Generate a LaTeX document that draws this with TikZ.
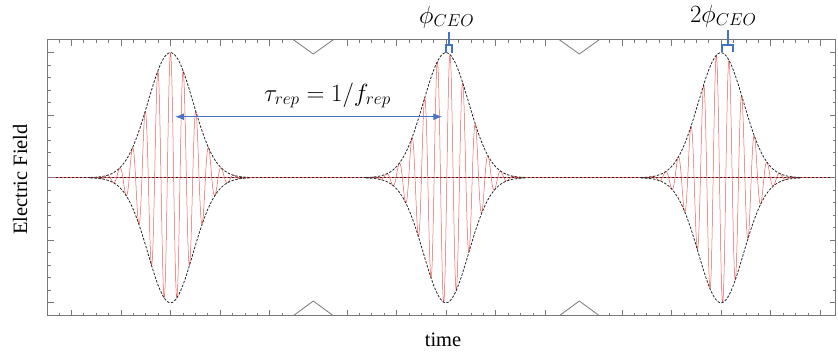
\documentclass[tikz,border=0pt]{standalone}
\usepackage{fontspec}
\setmainfont{Liberation Serif}
\usetikzlibrary{arrows.meta}
\definecolor{pulsered}{RGB}{238,92,92}
\definecolor{annblue}{RGB}{68,114,196}
\definecolor{axisgray}{RGB}{120,120,120}
\tikzset{
  frameline/.style={axisgray, line width=0.8bp},
  tickline/.style={axisgray, line width=0.6bp},
  envelope/.style={black!85, line width=0.8bp, dash pattern=on 2.5bp off 1.5bp},
  carrier/.style={pulsered, line width=0.5bp},
  bluearrow/.style={annblue, line width=1.1bp, {Latex[length=9bp,width=7bp]}-{Latex[length=9bp,width=7bp]}},
  bracketline/.style={annblue, line width=2bp},
  lbl/.style={inner sep=0pt, font=\fontsize{20.5}{24}\selectfont},
  mathlbl/.style={inner sep=0pt, font=\fontsize{23}{27}\selectfont},
  taulbl/.style={inner sep=0pt, font=\fontsize{25}{30}\selectfont},
}
\begin{document}
\begin{tikzpicture}[x=1bp,y=-1bp]
\useasboundingbox (0,0) rectangle (838,351);
% zero line
\draw[carrier] (47.7,177.7) -- (835.5,177.7);
\draw[envelope] (47.7,177.7) -- (835.5,177.7);
% pulses
\foreach \c/\s in {170.5/0, 446/4, 721/8} {
  \draw[carrier] plot[domain=-80:80, samples=600] ({\c+\x},{177.7-125*exp(-(\x*\x)/1012.5)*cos(28.3465*(\x-\s))});
  \draw[envelope] plot[domain=-80:80, samples=160] ({\c+\x},{177.7-125*exp(-(\x*\x)/1012.5)});
  \draw[envelope] plot[domain=-80:80, samples=160] ({\c+\x},{177.7+125*exp(-(\x*\x)/1012.5)});
}
% frame
\draw[frameline] (47.7,39.7) rectangle (835.5,315.7);
% axis breaks
\foreach \b in {293.3,559.3} {
  \draw[frameline] (\b,39.7) -- (\b+20,54) -- (\b+40,39.7);
  \draw[frameline] (\b,315.7) -- (\b+20,301) -- (\b+40,315.7);
}
% y ticks
\foreach \k in {-10,...,10} {
  \draw[tickline] (47.7,177.7+12.5*\k) -- ++(3,0);
  \draw[tickline] (835.5,177.7+12.5*\k) -- ++(-3,0);
}
\foreach \k in {-10,-5,0,5,10} {
  \draw[tickline] (47.7,177.7+12.5*\k) -- ++(6,0);
  \draw[tickline] (835.5,177.7+12.5*\k) -- ++(-6,0);
}
% x ticks
\foreach \c/\a/\b in {170.5/-9/9, 446/-8/8, 721/-9/8} {
  \foreach \k in {\a,...,\b} {
    \draw[tickline] (\c+12.4*\k,39.7) -- ++(0,3);
    \draw[tickline] (\c+12.4*\k,315.7) -- ++(0,-3);
  }
  \foreach \k in {-8,-4,0,4,8} {
    \draw[tickline] (\c+12.4*\k,39.7) -- ++(0,6);
    \draw[tickline] (\c+12.4*\k,315.7) -- ++(0,-6);
  }
}
% repetition period arrow
\coordinate (tauL) at (175,116.7);
\coordinate (tauR) at (442.3,116.7);
\draw[bluearrow] (tauL) -- (tauR);
\node[taulbl, anchor=base] (tau) at (327.5,101) {$\tau_{rep} = 1/f_{rep}$};
% CEO brackets
\draw[bracketline] (446,53) -- (446,45) -- (452,45) -- (452,53);
\draw[bracketline] (449,45) -- (449,31.5);
\draw[bracketline] (721.7,52) -- (721.7,45) -- (732.7,45) -- (732.7,52);
\draw[bracketline] (727.5,45) -- (727.5,30);
\node[mathlbl, anchor=base] (ceo1) at (446.7,23) {$\phi_{CEO}$};
\node[mathlbl, anchor=base] (ceo2) at (723.3,22) {$2\phi_{CEO}$};
% axis labels
\node[lbl, anchor=base] (timelbl) at (443,346) {time};
\node[lbl, rotate=90, anchor=base] (eflbl) at (27,179.5) {Electric Field};
\end{tikzpicture}
\end{document}
